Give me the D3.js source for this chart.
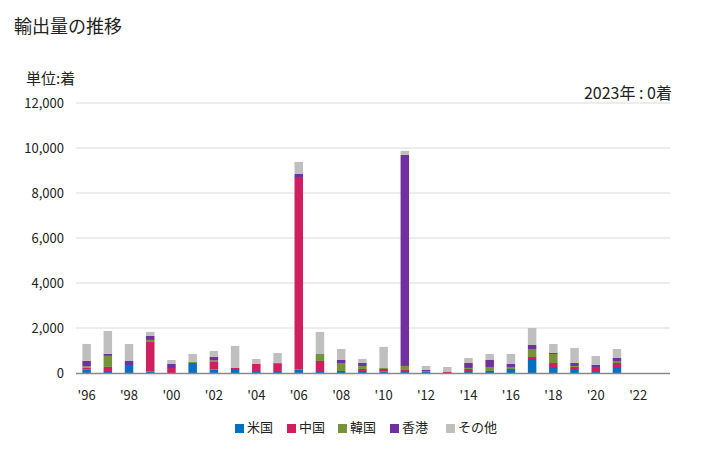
<!DOCTYPE html>
<html><head><meta charset="utf-8">
<script src="https://cdn.jsdelivr.net/npm/d3@7"></script>
<style>body{margin:0;background:#fff;font-family:"Noto Sans CJK JP","Noto Sans",sans-serif;}</style>
</head><body><svg id="c" width="728" height="450"></svg>
<script>
const years = d3.range(1996, 2024);
const seriesNames = ["米国","中国","韓国","香港","その他"];
const colors = ["#0070c0","#d01f5f","#76933c","#7030a0","#bfbfbf"];
const usa   = [165,90,355,60,0,445,150,178,45,90,150,45,90,90,60,45,45,0,90,90,133,622,267,178,45,222,0,0];
const china = [75,180,0,1350,222,0,370,45,370,325,8520,490,0,90,120,90,0,45,90,0,45,90,178,90,222,222,0,0];
const korea = [60,490,0,60,0,45,45,0,0,0,0,311,355,133,45,178,45,0,45,178,90,355,400,45,0,90,0,0];
const hk    = [237,90,178,178,178,0,150,0,0,45,178,0,133,133,0,9380,45,0,222,311,133,178,45,133,90,133,0,0];
const other = [755,1020,755,178,178,355,265,980,207,430,533,980,490,178,935,178,178,222,222,267,445,755,400,667,400,400,0,0];
const yTicks = [0,2000,4000,6000,8000,10000,12000];
const xLabels = ["'96","'98","'00","'02","'04","'06","'08","'10","'12","'14","'16","'18","'20","'22"];

const svg = d3.select("#c");
const x = d3.scaleBand().domain(years).range([76,670]).paddingInner(0.6).paddingOuter(0.3);
const y = d3.scaleLinear().domain([0,12000]).range([373,103]);

svg.append("text").attr("x",14).attr("y",33).attr("font-size",18).attr("fill","#222").text("輸出量の推移");
svg.append("text").attr("x",26).attr("y",84).attr("font-size",15).attr("fill","#222").text("単位:着");
svg.append("text").attr("x",672).attr("y",99).attr("font-size",16).attr("fill","#222").attr("text-anchor","end").text("2023年 : 0着");

svg.append("g").selectAll("line").data(yTicks.slice(1)).join("line")
  .attr("x1",76).attr("x2",670).attr("y1",d=>y(d)).attr("y2",d=>y(d))
  .attr("stroke","#d9d9d9").attr("stroke-width",1);
svg.append("g").selectAll("text").data(yTicks).join("text")
  .attr("x",64).attr("y",d=>y(d)+5).attr("text-anchor","end").attr("font-size",13).attr("fill","#222")
  .text(d=>d3.format(",")(d));

const table = years.map((yr,i)=>({year:yr,"米国":usa[i],"中国":china[i],"韓国":korea[i],"香港":hk[i],"その他":other[i]}));
const stacked = d3.stack().keys(seriesNames)(table);
svg.append("g").selectAll("g").data(stacked).join("g").attr("fill",(d,i)=>colors[i])
  .selectAll("rect").data(d=>d).join("rect")
  .attr("x",d=>x(d.data.year)).attr("width",x.bandwidth())
  .attr("y",d=>y(d[1])).attr("height",d=>Math.max(0,y(d[0])-y(d[1])));

svg.append("line").attr("x1",76).attr("x2",670).attr("y1",373.5).attr("y2",373.5).attr("stroke","#898989").attr("stroke-width",1.5);

svg.append("g").selectAll("text").data(xLabels).join("text")
  .attr("x",(d,i)=>x(1996+2*i)+x.bandwidth()/2).attr("y",400).attr("text-anchor","middle")
  .attr("font-size",13).attr("fill","#222").text(d=>d);

const legX = [235,287,338,390,446];
const leg = svg.append("g").selectAll("g").data(seriesNames).join("g")
  .attr("transform",(d,i)=>`translate(${legX[i]},0)`);
leg.append("rect").attr("x",0).attr("y",424).attr("width",9).attr("height",9).attr("fill",(d,i)=>colors[i]);
leg.append("text").attr("x",12).attr("y",432).attr("font-size",13).attr("fill","#222").text(d=>d);
</script></body></html>
